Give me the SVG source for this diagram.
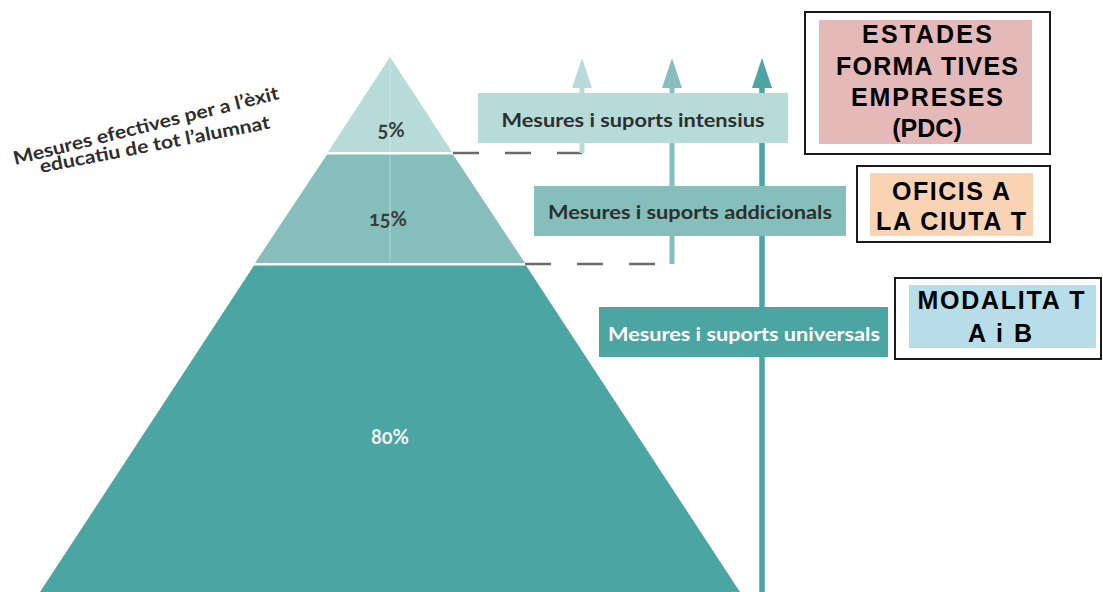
<svg xmlns="http://www.w3.org/2000/svg" width="1103" height="592" viewBox="0 0 1103 592">
<defs>
<style>
.lbl{font-family:Lato,"Open Sans","Liberation Sans",sans-serif;font-weight:bold;font-size:18.5px;fill:#2e2e2e;text-anchor:middle}
.pct{font-family:Lato,"Open Sans","Liberation Sans",sans-serif;font-weight:bold;font-size:20px;fill:#3a3a3a;text-anchor:middle;font-variant-numeric:oldstyle-nums}
.box{font-family:"Liberation Sans",Arial,sans-serif;font-weight:bold;font-size:25px;fill:#000;text-anchor:middle}
.frame{fill:#fff;stroke:#1a1a1a;stroke-width:2}
.dash{fill:none;stroke:#6a6a6a;stroke-width:2.5;stroke-dasharray:26 26}
.title{font-family:Lato,"Open Sans","Liberation Sans",sans-serif;font-weight:bold;font-size:18.5px;fill:#2e2e2e}
</style>
<marker id="h1" viewBox="0 -10 30 20" refX="0" refY="0" markerWidth="30" markerHeight="20" markerUnits="userSpaceOnUse" orient="auto"><path d="M0,-10 L30,0 L0,10 Z" fill="#b6dbd9"/></marker>
<marker id="h2" viewBox="0 -10 30 20" refX="0" refY="0" markerWidth="30" markerHeight="20" markerUnits="userSpaceOnUse" orient="auto"><path d="M0,-10 L30,0 L0,10 Z" fill="#85bebb"/></marker>
<marker id="h3" viewBox="0 -10 30 20" refX="0" refY="0" markerWidth="30" markerHeight="20" markerUnits="userSpaceOnUse" orient="auto"><path d="M0,-10 L30,0 L0,10 Z" fill="#4ba5a2"/></marker>
</defs>
<rect width="1103" height="592" fill="#fff"/>

<g id="title">
<text class="title" transform="translate(15,165) rotate(-14)" textLength="273" lengthAdjust="spacingAndGlyphs">Mesures efectives per a l’èxit</text>
<text class="title" transform="translate(41,173) rotate(-11)" textLength="234" lengthAdjust="spacingAndGlyphs">educatiu de tot l’alumnat</text>
</g>

<g id="pyramid">
<polygon id="layer-5" points="390,57 452,152 328,152" fill="#b6dbd9"/>
<polygon id="layer-15" points="327,154.5 453,154.5 525,263 255,263" fill="#85bebb"/>
<polygon id="layer-80" points="254,265.5 526,265.5 740,592 40,592" fill="#4ba5a2"/>
<line x1="390" y1="57" x2="390" y2="263" stroke="#ffffff" stroke-opacity="0.25" stroke-width="1.5"/>
<text class="pct" x="391" y="137">5%</text>
<text class="pct" x="388" y="226">15%</text>
<text class="pct" x="390" y="444" style="fill:#f2f2f2">80%</text>
</g>

<g id="connectors">
<path class="dash" d="M453,153 H582"/>
<path class="dash" d="M525,264 H672"/>
<path d="M582,153 V88" stroke="#b6dbd9" stroke-width="5" fill="none" marker-end="url(#h1)"/>
<path d="M672,264 V88" stroke="#85bebb" stroke-width="5" fill="none" marker-end="url(#h2)"/>
<path d="M762,592 V88" stroke="#4ba5a2" stroke-width="5.5" fill="none" marker-end="url(#h3)"/>
</g>

<g id="intensius">
<rect x="478" y="93" width="310" height="50" fill="#b6dbd9"/>
<text class="lbl" x="633" y="127" textLength="263" lengthAdjust="spacingAndGlyphs">Mesures i suports intensius</text>
</g>
<g id="addicionals">
<rect x="534" y="186" width="312" height="50" fill="#85bebb"/>
<text class="lbl" x="690" y="219" textLength="284" lengthAdjust="spacingAndGlyphs">Mesures i suports addicionals</text>
</g>
<g id="universals">
<rect x="599" y="307" width="289" height="50" fill="#4ba5a2"/>
<text class="lbl" x="744" y="341" textLength="272" lengthAdjust="spacingAndGlyphs" style="fill:#ffffff">Mesures i suports universals</text>
</g>

<g id="estades">
<rect class="frame" x="805" y="12" width="245" height="142"/>
<rect x="819" y="20" width="213" height="124" fill="#e6b9b9"/>
<text class="box" x="927" y="43" textLength="130">ESTADES</text>
<text class="box" x="927" y="75" textLength="182">FORMA TIVES</text>
<text class="box" x="927" y="106" textLength="152">EMPRESES</text>
<text class="box" x="927" y="137">(PDC)</text>
</g>
<g id="oficis">
<rect class="frame" x="857" y="166" width="193" height="76"/>
<rect x="870" y="173" width="163" height="63" fill="#fad3b4"/>
<text class="box" x="951" y="200" textLength="118">OFICIS A</text>
<text class="box" x="951" y="230" textLength="150">LA CIUTA T</text>
</g>
<g id="modalitat">
<rect class="frame" x="895" y="278" width="206" height="81"/>
<rect x="909" y="285" width="187" height="63" fill="#b7dde8"/>
<text class="box" x="1001" y="309" textLength="167">MODALITA T</text>
<text class="box" x="1000" y="342" textLength="64">A i B</text>
</g>
</svg>
